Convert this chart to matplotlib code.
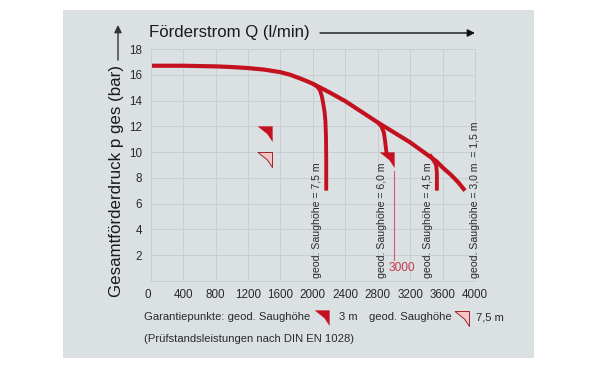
import matplotlib
matplotlib.use('Agg')
from matplotlib import pyplot as plt
from matplotlib.patches import Rectangle, FancyArrowPatch
from matplotlib.path import Path

plt.rcParams['font.family'] = ['Liberation Sans', 'DejaVu Sans']

# main curve and the three suction height branches
main_q = [0, 400, 800, 1000, 1200, 1400, 1600, 1720, 1840, 1920, 2000, 2200, 2400, 2800, 3200, 3526, 3600, 3700, 3793, 3876]
main_p = [16.7, 16.7, 16.65, 16.6, 16.52, 16.4, 16.2, 16.0, 15.72, 15.52, 15.3, 14.65, 13.95, 12.3, 10.75, 9.27, 8.8, 8.25, 7.65, 7.0]
b75_q = [2000, 2050, 2087, 2110, 2127, 2145, 2155, 2162, 2165, 2165]
b75_p = [15.3, 15.1, 14.8, 14.35, 13.8, 13.1, 12.4, 11.2, 9.5, 7.0]
b60_q = [2800, 2845, 2876, 2890, 2903, 2912]
b60_p = [12.3, 12.0, 11.5, 10.9, 10.2, 9.8]
b45_q = [3440, 3485, 3520, 3530, 3530]
b45_p = [9.8, 9.4, 9.0, 8.4, 7.0]

guarantee_q = 3000
guarantee_p = 10
guarantee_low = 1.6
guarantee_top = 8.5
filled_q = [1500, guarantee_q]
filled_p = [12, guarantee_p]
open_q = [1500]
open_p = [10]

x_ticks = list(range(0, 4001, 400))
y_ticks = list(range(0, 19, 2))
y_labels = [''] + [str(v) for v in y_ticks[1:]]

RED = '#c4111f'
PANEL = '#dbe0e3'
GRID = '#c8ced2'

# corner shaped marker, origin is the top right corner
corner = Path([(-1, 0), (0, 0), (0, -1.04), (-0.35, -0.52), (-1, 0)],
              [Path.MOVETO, Path.LINETO, Path.LINETO, Path.LINETO, Path.CLOSEPOLY])

W, H = 600, 366
fig = plt.figure(figsize=(6, 3.66), dpi=100, facecolor='white')
fig.patches.append(Rectangle((63 / W, 1 - 358 / H), 471 / W, 348 / H, transform=fig.transFigure,
                             facecolor=PANEL, edgecolor='none', zorder=-5))


def put(x, y, s, **kw):
    kw.setdefault('fontsize', 8.1)
    kw.setdefault('color', '#2a2a2a')
    kw.setdefault('va', 'center')
    fig.text(x / W, 1 - y / H, s, **kw)


ax = fig.add_axes([150.7 / W, 1 - 280.8 / H, 324.3 / W, 231.8 / H])
ax.set_facecolor('none')
ax.set_xlim(0, 4000)
ax.set_ylim(0, 18)
ax.set_xticks(x_ticks)
ax.set_yticks(y_ticks)
ax.set_yticklabels(y_labels)
ax.tick_params(length=0, labelsize=8.4, labelcolor='#2a2a2a', pad=6)
ax.get_xticklabels()[0].set_ha('right')
ax.grid(True, color=GRID, lw=0.7)
ax.set_axisbelow(True)
for s in ax.spines.values():
    s.set_color(GRID)
    s.set_linewidth(0.7)

ax.plot(b75_q, b75_p, color=RED, lw=2.8, solid_capstyle='butt')
ax.plot(b60_q, b60_p, color=RED, lw=2.8, solid_capstyle='butt')
ax.plot(b45_q, b45_p, color=RED, lw=2.8, solid_capstyle='butt')
ax.plot(main_q, main_p, color=RED, lw=3.0, solid_capstyle='butt')
ax.plot([guarantee_q, guarantee_q], [guarantee_low, guarantee_top], color='#c9606a', lw=0.8)
ax.plot(filled_q, filled_p, ls='none', marker=corner, ms=21.6, mfc=RED, mec=RED, mew=0.2, zorder=5)
ax.plot(open_q, open_p, ls='none', marker=corner, ms=21.6, mfc='#f4c6c8', mec='#a0242c', mew=0.7, zorder=5)

# legend corners below the axis
ax.plot([2202], [-2.27], marker=corner, ms=21.6, mfc=RED, mec=RED, mew=0.2, clip_on=False)
ax.plot([3930], [-2.35], marker=corner, ms=21.6, mfc='#f4c6c8', mec='#a0242c', mew=0.7, clip_on=False)

ax.text(guarantee_q - 60, 1.0, '3000', color='#c23a4a', fontsize=8.6, va='center', ha='left')

# rotated labels of the branches
for px, s in [(316.7, 'geod. Saughöhe = 7,5 m'), (381.7, 'geod. Saughöhe = 6,0 m'),
              (428, 'geod. Saughöhe = 4,5 m'), (475, 'geod. Saughöhe = 3,0 m  = 1,5 m')]:
    put(px, 278, s, rotation=90, ha='center', va='bottom', fontsize=7.6)

put(149, 32, 'Förderstrom Q (l/min)', fontsize=12.1, color='#1a1a1a', ha='left')
put(116, 181, 'Gesamtförderdruck p ges (bar)', fontsize=12.2, color='#1a1a1a',
    rotation=90, ha='center')
put(144, 317, 'Garantiepunkte: geod. Saughöhe', ha='left')
put(339, 317, '3 m', ha='left')
put(369, 317, 'geod. Saughöhe', ha='left')
put(476, 317, '7,5 m', ha='left')
put(144, 339, '(Prüfstandsleistungen nach DIN EN 1028)', ha='left')

# arrows next to the axis titles
fig.add_artist(FancyArrowPatch(
    (320 / W, 1 - 33 / H), (475 / W, 1 - 33 / H), transform=fig.transFigure,
    arrowstyle='-|>', mutation_scale=11, lw=1.0, color='#111111', shrinkA=0, shrinkB=0))
fig.add_artist(FancyArrowPatch(
    (118 / W, 1 - 60 / H), (118 / W, 1 - 25 / H), transform=fig.transFigure,
    arrowstyle='-|>', mutation_scale=11, lw=1.0, color='#333333', shrinkA=0, shrinkB=0))

fig.savefig('out.png', dpi=100)
